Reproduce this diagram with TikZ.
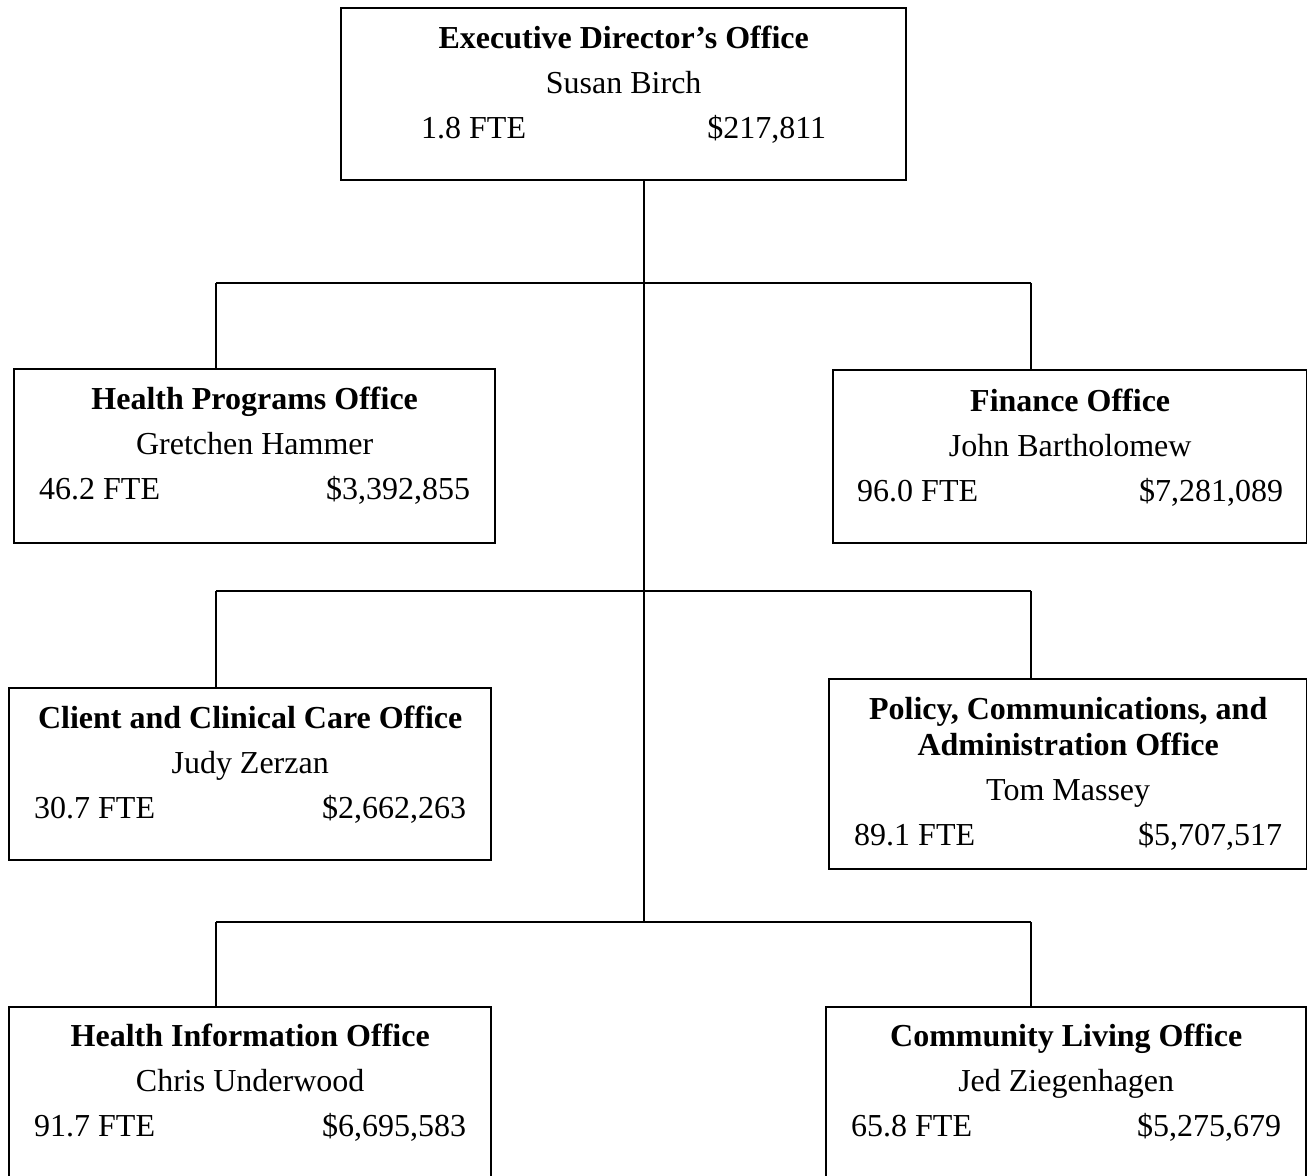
\documentclass[tikz,border=0pt]{standalone}
\usepackage{fontspec}
\setmainfont{Liberation Serif}
\usetikzlibrary{positioning}

\begin{document}
\begin{tikzpicture}[x=0.5pt,y=-0.5pt, every node/.style={font=\fontsize{16}{18}\selectfont,align=flush center},
  office/.style={draw,line width=1.2pt,anchor=north west,inner xsep=12.5pt,inner ysep=0pt,
    text height=20pt,text depth=66pt},
  link/.style={draw,line width=1.1pt}]
\clip (0,0) rectangle (1307,1176);
\node[office,inner xsep=40pt,text width=202.5pt] (exec) at (340,7)
  {\textbf{Executive Director's Office}\\[4.5pt]Susan Birch\\[4.5pt]1.8 FTE\hfill\$217,811};
\node[office,text width=215.5pt,text depth=67pt] (hp) at (13,368)
  {\textbf{Health Programs Office}\\[4.5pt]Gretchen Hammer\\[4.5pt]46.2 FTE\hfill\$3,392,855};
\node[office,inner xsep=12pt,text width=213pt,text height=20.5pt] (fin) at (832,369)
  {\textbf{Finance Office}\\[4.5pt]John Bartholomew\\[4.5pt]96.0 FTE\hfill\$7,281,089};
\node[office,text width=216pt] (ccc) at (8,687)
  {\textbf{Client and Clinical Care Office}\\[4.5pt]Judy Zerzan\\[4.5pt]30.7 FTE\hfill\$2,662,263};
\node[office,text width=214pt,text depth=75pt] (pca) at (828,678)
  {\textbf{Policy, Communications, and}\\\textbf{Administration Office}\\[4.5pt]Tom Massey\\[4.5pt]89.1 FTE\hfill\$5,707,517};
\node[office,text width=216pt,text height=19.5pt,text depth=80pt] (hio) at (8,1006)
  {\textbf{Health Information Office}\\[4.5pt]Chris Underwood\\[4.5pt]91.7 FTE\hfill\$6,695,583};
\node[office,text width=215pt,text height=19.5pt,text depth=80pt] (clo) at (825,1006)
  {\textbf{Community Living Office}\\[4.5pt]Jed Ziegenhagen\\[4.5pt]65.8 FTE\hfill\$5,275,679};
% spine and the three bars
\coordinate (spine) at (644,922);
\draw[link] (spine |- exec.south) -- (spine);
\foreach \y/\l/\r in {283/hp/fin,591/ccc/pca,922/hio/clo}{
  \coordinate (barL) at (216,\y); \coordinate (barR) at (1031,\y);
  \draw[link] (barL) -- (barR);
  \draw[link] (barL) -- (barL |- \l.north); \draw[link] (barR) -- (barR |- \r.north);
}
\end{tikzpicture}
\end{document}
